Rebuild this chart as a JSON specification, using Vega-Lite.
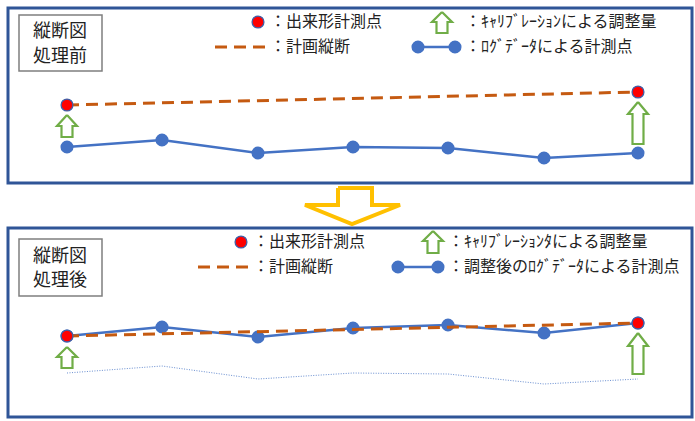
{
  "$schema": "https://vega.github.io/schema/vega-lite/v6.json",
  "width": 695,
  "height": 421,
  "padding": 0,
  "autosize": {"type": "fit", "contains": "padding"},
  "background": "white",
  "config": {"view": {"stroke": null}},
  "datasets": {
    "frames": [
      {"x": 8, "x2": 692, "y": 8, "y2": 183},
      {"x": 8, "x2": 692, "y": 228, "y2": 417}
    ],
    "boxes": [
      {"x": 19, "x2": 102, "y": 15, "y2": 71},
      {"x": 19, "x2": 102, "y": 239, "y2": 296}
    ],
    "titles": [
      {"x": 60, "y": 32, "t": "縦断図"},
      {"x": 60, "y": 57, "t": "処理前"},
      {"x": 60, "y": 257, "t": "縦断図"},
      {"x": 60, "y": 281, "t": "処理後"}
    ],
    "labels": [
      {"x": 270, "y": 22, "t": "：出来形計測点"},
      {"x": 270, "y": 47, "t": "：計画縦断"},
      {"x": 465, "y": 22, "t": "：ｷｬﾘﾌﾞﾚｰｼｮﾝによる調整量"},
      {"x": 465, "y": 47, "t": "：ﾛｸﾞﾃﾞｰﾀによる計測点"},
      {"x": 253, "y": 242, "t": "：出来形計測点"},
      {"x": 253, "y": 267, "t": "：計画縦断"},
      {"x": 448, "y": 242, "t": "：ｷｬﾘﾌﾞﾚｰｼｮﾝﾀによる調整量"},
      {"x": 448, "y": 267, "t": "：調整後のﾛｸﾞﾃﾞｰﾀによる計測点"}
    ],
    "original": [
      {"g": "b", "x": 67, "y": 373},
      {"g": "b", "x": 162, "y": 366},
      {"g": "b", "x": 258, "y": 379},
      {"g": "b", "x": 353, "y": 373},
      {"g": "b", "x": 448, "y": 374},
      {"g": "b", "x": 544, "y": 384},
      {"g": "b", "x": 638, "y": 379}
    ],
    "log": [
      {"g": "t", "x": 67, "y": 147},
      {"g": "t", "x": 162, "y": 140},
      {"g": "t", "x": 258, "y": 153},
      {"g": "t", "x": 353, "y": 147},
      {"g": "t", "x": 448, "y": 148},
      {"g": "t", "x": 544, "y": 158},
      {"g": "t", "x": 638, "y": 153},
      {"g": "b", "x": 67, "y": 336},
      {"g": "b", "x": 162, "y": 327},
      {"g": "b", "x": 258, "y": 337},
      {"g": "b", "x": 353, "y": 328},
      {"g": "b", "x": 448, "y": 325},
      {"g": "b", "x": 544, "y": 333},
      {"g": "b", "x": 638, "y": 323},
      {"g": "lt", "x": 418, "y": 47},
      {"g": "lt", "x": 455, "y": 47},
      {"g": "lb", "x": 398, "y": 267},
      {"g": "lb", "x": 438, "y": 267}
    ],
    "planned": [
      {"g": "t", "x": 67, "y": 105},
      {"g": "t", "x": 638, "y": 92},
      {"g": "b", "x": 67, "y": 336},
      {"g": "b", "x": 638, "y": 323},
      {"g": "lt", "x": 215, "y": 47},
      {"g": "lt", "x": 265, "y": 47},
      {"g": "lb", "x": 198, "y": 267},
      {"g": "lb", "x": 248, "y": 267}
    ],
    "measured": [
      {"x": 67, "y": 105},
      {"x": 638, "y": 92},
      {"x": 67, "y": 336},
      {"x": 638, "y": 323},
      {"x": 258, "y": 22},
      {"x": 241, "y": 242}
    ],
    "arrows": [
      {"g": 1, "o": 0, "x": 67, "y": 115},
      {"g": 1, "o": 1, "x": 77, "y": 126},
      {"g": 1, "o": 2, "x": 72.5, "y": 126},
      {"g": 1, "o": 3, "x": 72.5, "y": 137},
      {"g": 1, "o": 4, "x": 61.5, "y": 137},
      {"g": 1, "o": 5, "x": 61.5, "y": 126},
      {"g": 1, "o": 6, "x": 57, "y": 126},
      {"g": 1, "o": 7, "x": 67, "y": 115},
      {"g": 2, "o": 0, "x": 638, "y": 102},
      {"g": 2, "o": 1, "x": 648, "y": 114},
      {"g": 2, "o": 2, "x": 643.5, "y": 114},
      {"g": 2, "o": 3, "x": 643.5, "y": 144},
      {"g": 2, "o": 4, "x": 632.5, "y": 144},
      {"g": 2, "o": 5, "x": 632.5, "y": 114},
      {"g": 2, "o": 6, "x": 628, "y": 114},
      {"g": 2, "o": 7, "x": 638, "y": 102},
      {"g": 3, "o": 0, "x": 67, "y": 347},
      {"g": 3, "o": 1, "x": 77, "y": 357},
      {"g": 3, "o": 2, "x": 72.5, "y": 357},
      {"g": 3, "o": 3, "x": 72.5, "y": 368},
      {"g": 3, "o": 4, "x": 61.5, "y": 368},
      {"g": 3, "o": 5, "x": 61.5, "y": 357},
      {"g": 3, "o": 6, "x": 57, "y": 357},
      {"g": 3, "o": 7, "x": 67, "y": 347},
      {"g": 4, "o": 0, "x": 638, "y": 333},
      {"g": 4, "o": 1, "x": 648, "y": 346},
      {"g": 4, "o": 2, "x": 643.5, "y": 346},
      {"g": 4, "o": 3, "x": 643.5, "y": 374},
      {"g": 4, "o": 4, "x": 632.5, "y": 374},
      {"g": 4, "o": 5, "x": 632.5, "y": 346},
      {"g": 4, "o": 6, "x": 628, "y": 346},
      {"g": 4, "o": 7, "x": 638, "y": 333},
      {"g": 5, "o": 0, "x": 442, "y": 12},
      {"g": 5, "o": 1, "x": 452, "y": 22},
      {"g": 5, "o": 2, "x": 447.5, "y": 22},
      {"g": 5, "o": 3, "x": 447.5, "y": 33},
      {"g": 5, "o": 4, "x": 436.5, "y": 33},
      {"g": 5, "o": 5, "x": 436.5, "y": 22},
      {"g": 5, "o": 6, "x": 432, "y": 22},
      {"g": 5, "o": 7, "x": 442, "y": 12},
      {"g": 6, "o": 0, "x": 433, "y": 231},
      {"g": 6, "o": 1, "x": 443, "y": 241},
      {"g": 6, "o": 2, "x": 438.5, "y": 241},
      {"g": 6, "o": 3, "x": 438.5, "y": 253},
      {"g": 6, "o": 4, "x": 427.5, "y": 253},
      {"g": 6, "o": 5, "x": 427.5, "y": 241},
      {"g": 6, "o": 6, "x": 423, "y": 241},
      {"g": 6, "o": 7, "x": 433, "y": 231}
    ],
    "bigArrow": [
      {"o": 0, "x": 338, "y": 188},
      {"o": 1, "x": 372, "y": 188},
      {"o": 2, "x": 372, "y": 205},
      {"o": 3, "x": 400, "y": 205},
      {"o": 4, "x": 352, "y": 224},
      {"o": 5, "x": 305, "y": 205},
      {"o": 6, "x": 338, "y": 205},
      {"o": 7, "x": 338, "y": 188}
    ]
  },
  "encoding": {
    "x": {"field": "x", "type": "quantitative", "axis": null, "scale": {"domain": [0, 695], "nice": false, "zero": false}},
    "y": {"field": "y", "type": "quantitative", "axis": null, "scale": {"domain": [0, 421], "nice": false, "zero": false, "reverse": true}}
  },
  "layer": [
    {
      "data": {"name": "frames"},
      "mark": {"type": "rect", "fill": "white", "stroke": "#2F5597", "strokeWidth": 3},
      "encoding": {"x2": {"field": "x2"}, "y2": {"field": "y2"}}
    },
    {
      "data": {"name": "boxes"},
      "mark": {"type": "rect", "fill": "white", "stroke": "#7F7F7F", "strokeWidth": 1.5},
      "encoding": {"x2": {"field": "x2"}, "y2": {"field": "y2"}}
    },
    {
      "data": {"name": "titles"},
      "mark": {"type": "text", "font": "Noto Sans CJK JP", "fontSize": 18, "align": "center", "baseline": "middle", "color": "#222222"},
      "encoding": {"text": {"field": "t"}}
    },
    {
      "data": {"name": "labels"},
      "mark": {"type": "text", "font": "Noto Sans CJK JP", "fontSize": 16, "align": "left", "baseline": "middle", "color": "#222222"},
      "encoding": {"text": {"field": "t"}}
    },
    {
      "data": {"name": "original"},
      "mark": {"type": "line", "color": "#4472C4", "strokeWidth": 1, "strokeDash": [1, 1.5], "opacity": 0.8},
      "encoding": {"detail": {"field": "g"}}
    },
    {
      "data": {"name": "log"},
      "mark": {"type": "line", "color": "#4472C4", "strokeWidth": 2.5},
      "encoding": {"detail": {"field": "g"}}
    },
    {
      "data": {"name": "log"},
      "mark": {"type": "circle", "color": "#4472C4", "size": 170, "opacity": 1}
    },
    {
      "data": {"name": "planned"},
      "mark": {"type": "line", "color": "#C55A11", "strokeWidth": 3, "strokeDash": [12, 7]},
      "encoding": {"detail": {"field": "g"}}
    },
    {
      "data": {"name": "measured"},
      "mark": {"type": "point", "shape": "circle", "filled": true, "fill": "#FF0000", "stroke": "#3F5FA8", "strokeWidth": 1.3, "size": 140, "opacity": 1}
    },
    {
      "data": {"name": "arrows"},
      "mark": {"type": "line", "color": "#70AD47", "strokeWidth": 2.2, "strokeJoin": "miter"},
      "encoding": {"detail": {"field": "g"}, "order": {"field": "o", "type": "quantitative"}}
    },
    {
      "data": {"name": "bigArrow"},
      "mark": {"type": "line", "color": "#FFC000", "strokeWidth": 4, "strokeJoin": "miter"},
      "encoding": {"order": {"field": "o", "type": "quantitative"}}
    }
  ]
}
